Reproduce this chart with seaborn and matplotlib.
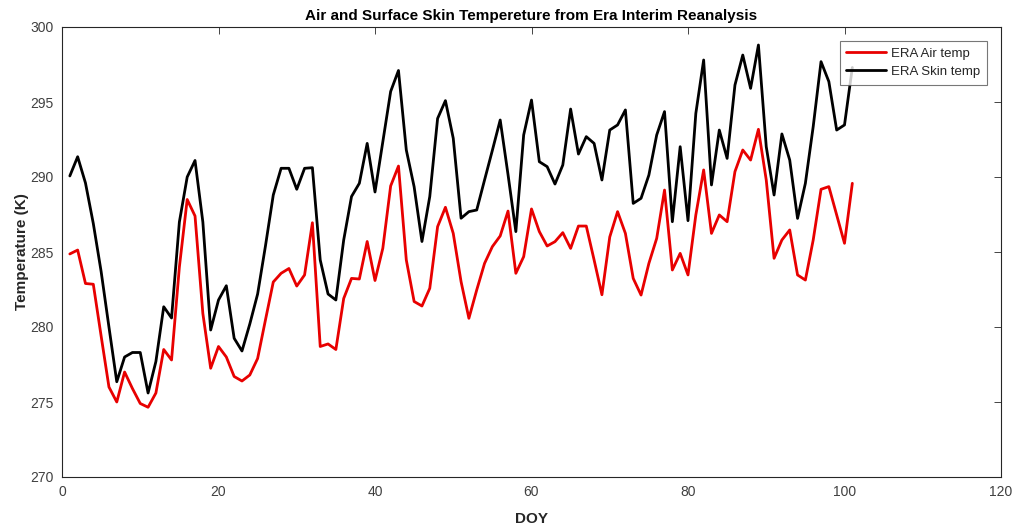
import numpy as np
import pandas as pd
import matplotlib
matplotlib.use("Agg")
import matplotlib.pyplot as plt
import seaborn as sns

doy = list(range(1, 102))

air_temp = [284.87, 285.13, 282.9, 282.85, 279.4, 276.0, 275.0, 277.0, 275.9, 274.9,
            274.65, 275.6, 278.5, 277.8, 284.0, 288.5, 287.4, 280.9, 277.25, 278.7,
            278.0, 276.7, 276.4, 276.8, 277.9, 280.47, 283.0, 283.58, 283.9, 282.73,
            283.47, 286.95, 278.7, 278.87, 278.5, 281.9, 283.24, 283.2, 285.7, 283.1,
            285.25, 289.4, 290.73, 284.47, 281.7, 281.4, 282.58, 286.69, 287.98, 286.24,
            283.02, 280.58, 282.47, 284.24, 285.36, 286.07, 287.73, 283.58, 284.69, 287.87,
            286.36, 285.4, 285.69, 286.29, 285.24, 286.73, 286.73, 284.47, 282.15, 286.0,
            287.69, 286.24, 283.24, 282.13, 284.24, 285.91, 289.13, 283.8, 284.91, 283.47,
            287.47, 290.47, 286.24, 287.47, 287.02, 290.36, 291.8, 291.13, 293.18, 289.8,
            284.58, 285.8, 286.47, 283.47, 283.13, 285.8, 289.18, 289.36, 287.47, 285.58,
            289.58]

skin_temp = [290.07, 291.35, 289.6, 286.9, 283.7, 280.0, 276.35, 278.0, 278.3, 278.3,
             275.6, 277.7, 281.35, 280.6, 287.0, 290.0, 291.1, 287.0, 279.8, 281.8,
             282.75, 279.25, 278.4, 280.2, 282.2, 285.4, 288.8, 290.58, 290.58, 289.18,
             290.58, 290.62, 284.47, 282.2, 281.8, 285.8, 288.7, 289.58, 292.24, 289.0,
             292.35, 295.7, 297.1, 291.8, 289.35, 285.7, 288.7, 293.9, 295.09, 292.58,
             287.25, 287.69, 287.8, 289.8, 291.78, 293.8, 290.16, 286.36, 292.8, 295.13,
             291.02, 290.69, 289.53, 290.8, 294.53, 291.53, 292.69, 292.24, 289.8, 293.13,
             293.47, 294.47, 288.24, 288.58, 290.13, 292.8, 294.36, 287.02, 292.02, 287.09,
             294.24, 297.8, 289.47, 293.13, 291.24, 296.13, 298.13, 295.91, 298.8, 292.02,
             288.8, 292.87, 291.13, 287.24, 289.58, 293.36, 297.69, 296.36, 293.13, 293.47,
             297.3]

series_names = ["ERA Air temp", "ERA Skin temp"]
series_colors = ["#e80000", "#000000"]
x_ticks = [0, 20, 40, 60, 80, 100, 120]
y_ticks = [270, 275, 280, 285, 290, 295, 300]

sns.set_style("white")
plt.rcParams["font.family"] = ["Liberation Sans", "DejaVu Sans"]

df = pd.DataFrame({
    "DOY": doy * 2,
    "Temperature": air_temp + skin_temp,
    "Series": [series_names[0]] * len(doy) + [series_names[1]] * len(doy),
})

fig = plt.figure(figsize=(10.15, 5.29), dpi=100)
ax = fig.add_axes([62 / 1015, 1 - 477 / 529, 939 / 1015, 450 / 529])

sns.lineplot(data=df, x="DOY", y="Temperature", hue="Series",
             palette=dict(zip(series_names, series_colors)),
             linewidth=2.0, ax=ax)

axc = "#262626"
ax.set_xlim(0, 120)
ax.set_ylim(270, 300)
ax.set_xticks(x_ticks)
ax.set_yticks(y_ticks)
ax.tick_params(direction="in", length=5, width=0.6, colors=axc, labelcolor="#404040",
               labelsize=10, top=True, right=True, pad=6)
for s in ax.spines.values():
    s.set_visible(True)
    s.set_color(axc)
    s.set_linewidth(0.8)

ax.set_xlabel("DOY", fontsize=11, fontweight="bold", color=axc, labelpad=9)
ax.set_ylabel("Temperature (K)", fontsize=11, fontweight="bold", color=axc, labelpad=1)
ax.set_title("Air and Surface Skin Tempereture from Era Interim Reanalysis",
             fontsize=11, fontweight="bold", color="#000000", pad=5)

leg = ax.legend(loc="upper right", bbox_to_anchor=(0.985, 0.969), fontsize=9.5,
                frameon=True, fancybox=False, edgecolor="#555555", borderaxespad=0,
                handlelength=3.0, handletextpad=0.4, borderpad=0.5, labelspacing=0.45)
leg.get_frame().set_linewidth(0.8)
leg.set_zorder(10)

fig.savefig("out.png", dpi=100)
